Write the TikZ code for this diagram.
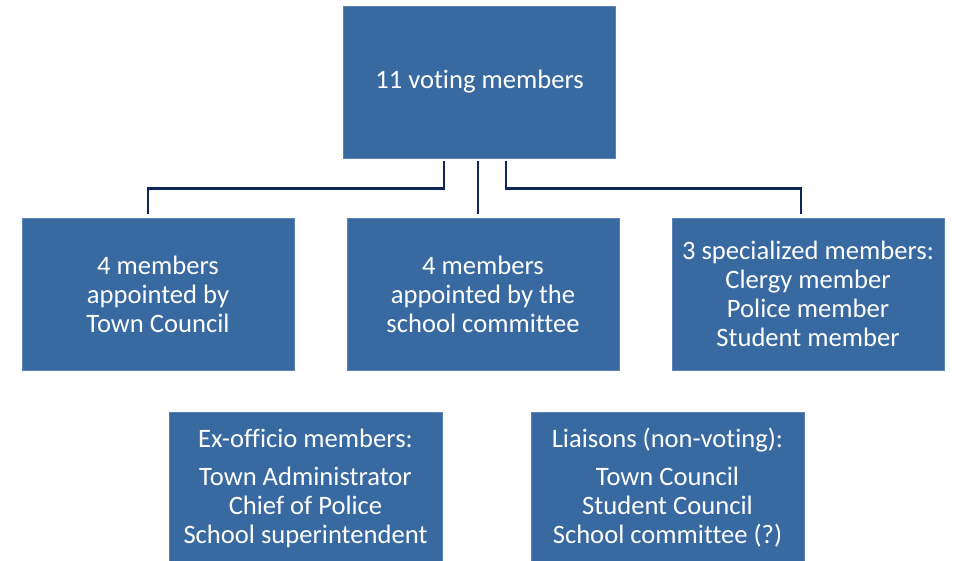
\documentclass[tikz,border=0pt]{standalone}
\usepackage{fontspec}
\setmainfont{Carlito}[Ligatures=NoCommon]
\definecolor{boxblue}{RGB}{56,105,160}
\definecolor{boxedge}{RGB}{90,130,180}
\definecolor{conncol}{RGB}{14,38,92}
\begin{document}
\begin{tikzpicture}[x=1pt,y=-1pt,
  box/.style={rectangle, fill=boxblue, draw=boxedge, line width=0.6pt, text=white,
    align=center, inner sep=0pt, minimum width=272pt, minimum height=152pt,
    font=\fontsize{26.6}{29}\selectfont},
  conn/.style={draw=conncol, line width=2.6pt}]
\useasboundingbox (0,0) rectangle (958,561);
\node[box] (top) at (479.5,82) {11 voting members};
\node[box] (left) at (158,294) {4 members\\appointed by\\Town Council};
\node[box] (mid) at (483,294) {4 members\\appointed by the\\school committee};
\node[box] (right) at (808,294) {3 specialized members:\\Clergy member\\Police member\\Student member};
\begin{scope}
\clip (0,0) rectangle (958,561);
\node[box, minimum width=273pt] (exo) at (305.5,488) {Ex-officio members:\\[9pt]Town Administrator\\Chief of Police\\School superintendent};
\node[box, minimum width=273pt] (liai) at (667.5,488) {Liaisons (non-voting):\\[9pt]Town Council\\Student Council\\School committee (?)};
\end{scope}
\draw[conn] ([xshift=-35.5pt,yshift=-3pt]top.south) |- ([xshift=-10pt,yshift=29pt]left.north) -- ([xshift=-10pt,yshift=4pt]left.north);
\draw[conn] ([xshift=-1.5pt,yshift=-3pt]top.south) -- ([xshift=-5pt,yshift=4pt]mid.north);
\draw[conn] ([xshift=26.5pt,yshift=-3pt]top.south) |- ([xshift=-7pt,yshift=29pt]right.north) -- ([xshift=-7pt,yshift=4pt]right.north);
\end{tikzpicture}
\end{document}
